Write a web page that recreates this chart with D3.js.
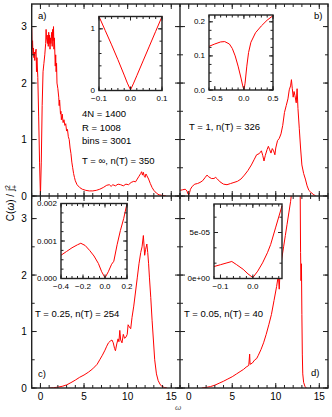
<!DOCTYPE html>
<html>
<head>
<meta charset="utf-8">
<script src="https://cdn.jsdelivr.net/npm/d3@7"></script>
<style>
  body { margin: 0; background: #fff; }
  svg { display: block; font-family: "Liberation Sans", Arial, sans-serif; }
  .frame { fill: none; stroke: #222; stroke-width: 1.4; }
  .tick { stroke: #222; stroke-width: 1; }
  .curve { fill: none; stroke: #ff0000; stroke-width: 1; stroke-linejoin: round; }
</style>
</head>
<body>
<div id="chart"></div>
<script>
// main panels: [omega, C(omega)/j+^2]
var panelA = [[-1.0,2.98],[-0.95,2.6],[-0.9,2.75],[-0.85,2.5],[-0.8,2.62],[-0.75,2.45],[-0.7,2.55],[-0.65,2.4],
  [-0.6,2.5],[-0.5,2.6],[-0.45,2.2],[-0.4,2.45],[-0.3,2.1],[-0.2,1.4],[-0.1,0.6],[0,0],[0.1,0.6],[0.2,1.6],
  [0.3,2.2],[0.4,2.35],[0.5,2.5],[0.6,2.7],[0.65,2.95],[0.7,2.8],[0.8,2.7],[0.85,2.85],[0.9,2.65],[0.95,2.9],
  [1.0,2.7],[1.05,2.85],[1.1,2.6],[1.15,2.8],[1.2,2.7],[1.3,2.9],[1.35,2.65],[1.4,2.95],[1.45,2.75],[1.5,3.0],
  [1.55,2.6],[1.6,2.8],[1.7,2.3],[1.75,2.5],[1.8,2.2],[1.85,2.35],[1.9,2.0],[2.0,1.9],[2.1,1.75],[2.15,1.6],
  [2.2,1.7],[2.3,1.45],[2.35,1.5],[2.4,1.35],[2.5,1.45],[2.6,1.3],[2.7,1.35],[2.8,1.25],[2.9,1.28],[3.0,1.15],
  [3.1,1.18],[3.2,1.05],[3.3,1.0],[3.4,0.85],[3.5,0.75],[3.6,0.6],[3.7,0.5],[3.8,0.4],[3.9,0.33],[4.0,0.27],
  [4.2,0.2],[4.5,0.15],[4.8,0.12],[5.2,0.1],[5.6,0.09],[6.0,0.09],[6.4,0.1],[6.8,0.12],[7.2,0.15],[7.6,0.19],
  [7.9,0.2],[8.1,0.17],[8.3,0.2],[8.6,0.18],[8.9,0.21],[9.2,0.2],[9.5,0.18],[9.8,0.21],[10.1,0.2],[10.4,0.24],
  [10.7,0.26],[10.9,0.25],[11.1,0.3],[11.3,0.35],[11.5,0.4],[11.6,0.43],[11.7,0.37],[11.8,0.42],[11.9,0.35],
  [12.0,0.33],[12.1,0.39],[12.2,0.36],[12.4,0.3],[12.6,0.22],[12.8,0.15],[13.0,0.1],[13.3,0.05],[13.6,0.02],
  [14.0,0.01],[14.4,0]];

var panelB = [[-1.0,0.1],[-0.7,0.11],[-0.4,0.12],[-0.2,0.09],[-0.1,0.04],[0,0.02],[0.1,0.06],[0.2,0.12],
  [0.4,0.17],[0.7,0.21],[1.0,0.22],[1.3,0.24],[1.6,0.27],[1.9,0.33],[2.1,0.37],[2.3,0.34],[2.6,0.31],[2.9,0.31],
  [3.1,0.33],[3.3,0.3],[3.6,0.25],[4.0,0.21],[4.4,0.2],[4.8,0.22],[5.2,0.24],[5.6,0.26],[6.0,0.3],[6.4,0.37],
  [6.8,0.45],[7.2,0.55],[7.5,0.64],[7.8,0.73],[8.1,0.75],[8.35,0.8],[8.5,0.72],[8.65,0.62],[8.8,0.72],[9.0,0.82],
  [9.15,0.88],[9.3,0.82],[9.45,0.76],[9.6,0.84],[9.75,0.8],[9.9,0.73],[10.0,0.85],[10.2,0.98],[10.4,1.02],
  [10.6,1.1],[10.8,1.25],[11.0,1.48],[11.2,1.6],[11.4,1.72],[11.55,1.88],[11.7,1.95],[11.8,2.06],[11.9,1.9],
  [12.0,1.75],[12.1,1.85],[12.2,1.78],[12.35,1.65],[12.45,1.9],[12.55,1.55],[12.7,1.2],[12.85,0.85],[13.0,0.55],
  [13.2,0.4],[13.4,0.3],[13.6,0.18],[13.8,0.1],[14.0,0.07],[14.3,0.03],[14.6,0]];

var panelC = [[1.0,0],[1.5,0.005],[2.0,0.015],[2.5,0.03],[3.0,0.055],[3.5,0.095],[4.0,0.14],[4.5,0.19],
  [5.0,0.23],[5.5,0.28],[6.0,0.34],[6.5,0.42],[6.8,0.5],[7.1,0.58],[7.4,0.67],[7.6,0.74],[7.8,0.8],[8.0,0.83],
  [8.2,0.85],[8.35,0.8],[8.5,0.7],[8.6,0.66],[8.75,0.78],[8.9,0.87],[9.0,0.82],[9.1,1.02],[9.2,0.85],[9.35,0.8],
  [9.5,0.95],[9.65,0.88],[9.8,0.9],[9.95,0.95],[10.05,1.12],[10.2,1.08],[10.35,1.05],[10.5,1.25],[10.7,1.45],
  [10.9,1.7],[11.1,1.95],[11.3,2.2],[11.5,2.4],[11.65,2.5],[11.8,2.7],[11.95,2.35],[12.05,2.45],[12.2,2.55],
  [12.3,2.4],[12.4,2.2],[12.5,1.95],[12.65,1.6],[12.8,1.2],[12.95,0.85],[13.1,0.5],[13.3,0.25],[13.5,0.13],
  [13.7,0.07],[13.9,0.03],[14.2,0.01],[14.5,0]];

var panelD = [[1.5,0],[2.0,0.01],[2.5,0.025],[3.0,0.05],[3.5,0.085],[4.0,0.12],[4.5,0.16],[5.0,0.2],[5.5,0.25],
  [6.0,0.3],[6.3,0.33],[6.6,0.37],[6.9,0.4],[7.0,0.6],[7.05,0.42],[7.3,0.44],[7.6,0.5],[7.8,0.52],[8.0,0.58],
  [8.3,0.68],[8.6,0.8],[8.9,0.95],[9.2,1.12],[9.5,1.3],[9.8,1.55],[10.1,1.8],[10.3,2.0],[10.4,1.75],[10.5,2.1],
  [10.7,2.3],[10.9,2.5],[11.1,2.7],[11.3,2.9],[11.5,3.1],[11.7,3.3],[11.9,3.55],[12.1,3.8],[12.3,4.1],[12.5,4.3],
  [12.7,4.2],[12.8,3.6],[12.85,2.4],[12.9,1.9],[12.95,2.2],[13.0,1.3],[13.05,0.6],[13.1,0.25],[13.2,0.1],
  [13.35,0.03],[13.5,0]];

// insets (low frequency region)
var insetA = [[-0.1,1.2],[-0.08,0.97],[-0.06,0.74],[-0.04,0.5],[-0.02,0.25],[-0.01,0.12],[0,0.01],
  [0.01,0.12],[0.02,0.24],[0.04,0.48],[0.06,0.72],[0.08,0.96],[0.1,1.2]];
var insetB = [[-0.6,0.128],[-0.5,0.135],[-0.4,0.141],[-0.33,0.142],[-0.25,0.135],[-0.2,0.122],[-0.15,0.1],
  [-0.1,0.07],[-0.05,0.035],[-0.02,0.012],[0,0],[0.02,0.02],[0.05,0.07],[0.08,0.11],[0.12,0.14],[0.2,0.168],
  [0.3,0.188],[0.4,0.205],[0.5,0.218]];
var insetC = [[-0.4,0.00062],[-0.35,0.00072],[-0.3,0.00082],[-0.25,0.0009],[-0.22,0.00094],[-0.18,0.00088],
  [-0.14,0.00075],[-0.1,0.0006],[-0.06,0.0004],[-0.03,0.00018],[0,0.00002],[0.03,0.00018],[0.06,0.00038],
  [0.08,0.00046],[0.11,0.0009],[0.14,0.00128],[0.17,0.0016],[0.2,0.002]];
var insetD = [[-0.12,1.3e-5],[-0.1,1.5e-5],[-0.08,1.7e-5],[-0.065,1.85e-5],[-0.05,1.5e-5],[-0.03,1.0e-5],
  [-0.015,0.5e-5],[0,0.1e-5],[0.015,0.8e-5],[0.03,1.7e-5],[0.045,2.8e-5],[0.055,3.7e-5],[0.07,5.5e-5],[0.09,7.9e-5]];

// tick labels
var xTickLabels = [0, 5, 10, 15];
var yTickLabels = [0, 1, 2, 3];
var annotations = {
  a: ["4N = 1400", "R = 1008", "bins = 3001"],
  a2: "T = \u221e, n(T) = 350",
  b: "T = 1, n(T) = 326",
  c: "T = 0.25, n(T) = 254",
  d: "T = 0.05, n(T) = 40"
};

var width = 332, height = 417;
var svg = d3.select('#chart').append('svg')
  .attr('width', width)
  .attr('height', height);

var fLeft = 31.7, fMid = 180, fRight = 328, fTop = 4, fHmid = 196, fBottom = 388;
var minus = function (s) { return String(s).replace('-', '\u2212'); };

function ticks(g, x, y, xs, ys, len, x0, x1, y0, y1) {
  xs.forEach(function (v) {
    g.append('line').attr('class', 'tick').attr('x1', x(v)).attr('x2', x(v)).attr('y1', y1).attr('y2', y1 - len);
    g.append('line').attr('class', 'tick').attr('x1', x(v)).attr('x2', x(v)).attr('y1', y0).attr('y2', y0 + len);
  });
  ys.forEach(function (v) {
    g.append('line').attr('class', 'tick').attr('y1', y(v)).attr('y2', y(v)).attr('x1', x0).attr('x2', x0 + len);
    g.append('line').attr('class', 'tick').attr('y1', y(v)).attr('y2', y(v)).attr('x1', x1).attr('x2', x1 - len);
  });
}

function panel(id, data, x0, x1, y0, y1, opts) {
  var x = d3.scaleLinear().domain([-1, 16]).range([x0, x1]);
  var y = d3.scaleLinear().domain([0, 3.4]).range([y1, y0]);
  var g = svg.append('g').attr('id', id);

  g.append('clipPath').attr('id', 'clip' + id)
    .append('rect').attr('x', x0).attr('y', y0).attr('width', x1 - x0).attr('height', y1 - y0);

  g.append('path')
    .datum(data)
    .attr('class', 'curve')
    .attr('clip-path', 'url(#clip' + id + ')')
    .attr('d', d3.line().x(function (d) { return x(d[0]); }).y(function (d) { return y(d[1]); }));

  ticks(g, x, y, d3.range(-1, 16.01, 1), d3.range(0, 3.41, 0.5), 3, x0, x1, y0, y1);
  ticks(g, x, y, xTickLabels, yTickLabels, 5, x0, x1, y0, y1);

  if (opts.xlabels) {
    g.selectAll('.xl').data(xTickLabels).enter().append('text')
      .attr('x', function (d) { return x(d); })
      .attr('y', fBottom + 12)
      .attr('text-anchor', 'middle')
      .style('font-size', '10px')
      .text(function (d) { return d; });
  }
  if (opts.ylabels) {
    g.selectAll('.yl').data(yTickLabels).enter().append('text')
      .attr('x', x0 - 5)
      .attr('y', function (d) { return y(d) + 3.5; })
      .attr('text-anchor', 'end')
      .style('font-size', '10px')
      .text(function (d) { return d; });
  }
  return {x: x, y: y, g: g};
}

function inset(g, data, box, xdom, ydom, xt, yt, xminor, yminor, fmtX, fmtY) {
  var x = d3.scaleLinear().domain(xdom).range([box[0], box[1]]);
  var y = d3.scaleLinear().domain(ydom).range([box[3], box[2]]);
  g.append('rect').attr('x', box[0]).attr('y', box[2])
    .attr('width', box[1] - box[0]).attr('height', box[3] - box[2])
    .attr('fill', '#fff');
  g.append('path')
    .datum(data)
    .attr('class', 'curve')
    .attr('d', d3.line().x(function (d) { return x(d[0]); }).y(function (d) { return y(d[1]); }));
  ticks(g, x, y, xminor, yminor, 2.5, box[0], box[1], box[2], box[3]);
  ticks(g, x, y, xt, yt, 4, box[0], box[1], box[2], box[3]);
  g.append('rect').attr('class', 'frame')
    .attr('x', box[0]).attr('y', box[2])
    .attr('width', box[1] - box[0]).attr('height', box[3] - box[2]);
  xt.forEach(function (v) {
    g.append('text').attr('x', x(v)).attr('y', box[3] + 10.5)
      .attr('text-anchor', 'middle').style('font-size', '8px').text(minus(fmtX(v)));
  });
  yt.forEach(function (v) {
    g.append('text').attr('x', box[0] - 4).attr('y', y(v) + 2.5)
      .attr('text-anchor', 'end').style('font-size', '8px').text(fmtY(v));
  });
}

var pa = panel('a', panelA, fLeft, fMid, fTop, fHmid, {ylabels: true});
var pb = panel('b', panelB, fMid, fRight, fTop, fHmid, {});
var pc = panel('c', panelC, fLeft, fMid, fHmid, fBottom, {ylabels: true, xlabels: true});
var pd = panel('d', panelD, fMid, fRight, fHmid, fBottom, {xlabels: true});

var f1 = d3.format('.1f');
inset(pa.g, insetA, [99, 162, 16.5, 90.5], [-0.1, 0.1], [0, 1.2], [-0.1, 0, 0.1], [0, 1],
  d3.range(-0.1, 0.101, 0.02), d3.range(0, 1.21, 0.2), f1, d3.format('d'));
inset(pb.g, insetB, [209, 273, 15, 90], [-0.6, 0.5], [0, 0.22], [-0.5, 0, 0.5], [0, 0.1, 0.2],
  d3.range(-0.6, 0.501, 0.1), d3.range(0, 0.221, 0.025), f1, f1);
inset(pc.g, insetC, [61, 127, 203.5, 278.5], [-0.4, 0.2], [0, 0.002], [-0.4, -0.2, 0, 0.2], [0, 0.001, 0.002],
  d3.range(-0.4, 0.201, 0.05), d3.range(0, 0.00201, 0.00025), f1, d3.format('.3f'));
inset(pd.g, insetD, [214, 282, 204, 278.5], [-0.12, 0.09], [0, 8.1e-5], [-0.1, 0], [0, 5e-5],
  d3.range(-0.12, 0.091, 0.02), d3.range(0, 8.1e-5, 5e-5 / 3), f1,
  function (v) { return v === 0 ? '0e+00' : '5e-05'; });

// outer frame and dividers
svg.append('rect').attr('class', 'frame')
  .attr('x', fLeft).attr('y', fTop).attr('width', fRight - fLeft).attr('height', fBottom - fTop);
svg.append('line').attr('class', 'frame').attr('x1', fMid).attr('x2', fMid).attr('y1', fTop).attr('y2', fBottom);
svg.append('line').attr('class', 'frame').attr('x1', fLeft).attr('x2', fRight).attr('y1', fHmid).attr('y2', fHmid);

// panel letters
var fs = '9.5px';
svg.append('text').attr('x', 38).attr('y', 19).style('font-size', fs).text('a)');
svg.append('text').attr('x', 314).attr('y', 19).style('font-size', fs).text('b)');
svg.append('text').attr('x', 38).attr('y', 377).style('font-size', fs).text('c)');
svg.append('text').attr('x', 311).attr('y', 376).style('font-size', fs).text('d)');

annotations.a.forEach(function (t, i) {
  svg.append('text').attr('x', 82).attr('y', 117 + i * 13.5).style('font-size', fs).text(t);
});
svg.append('text').attr('x', 82).attr('y', 164).style('font-size', fs).text(annotations.a2);
svg.append('text').attr('x', 189).attr('y', 130).style('font-size', fs).text(annotations.b);
svg.append('text').attr('x', 35).attr('y', 317).style('font-size', fs).text(annotations.c);
svg.append('text').attr('x', 184).attr('y', 317).style('font-size', fs).text(annotations.d);

// axis titles
var yt = svg.append('text')
  .attr('transform', 'translate(14,203) rotate(-90)')
  .attr('text-anchor', 'middle')
  .style('font-size', '10px');
yt.append('tspan').text('C(');
yt.append('tspan').style('font-style', 'italic').text('\u03c9');
yt.append('tspan').text(') / j');
yt.append('tspan').attr('dy', -4).style('font-size', '7px').text('2');
yt.append('tspan').attr('dx', -4).attr('dy', 7).style('font-size', '7px').text('+');

svg.append('text')
  .attr('x', 178).attr('y', 410)
  .attr('text-anchor', 'middle')
  .style('font-size', '8px')
  .style('font-style', 'italic')
  .style('fill', '#555')
  .text('\u03c9');
</script>
</body>
</html>
